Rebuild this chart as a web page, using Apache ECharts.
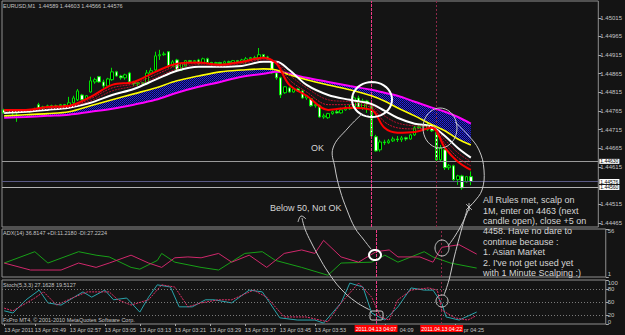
<!DOCTYPE html>
<html><head><meta charset="utf-8">
<script src="https://cdn.jsdelivr.net/npm/echarts@6/dist/echarts.min.js"></script>
<style>html,body{margin:0;padding:0;background:#141414;}#c{width:625px;height:335px;}</style>
</head><body><div id="c"></div>
<script>
// ---------- categories (1-minute bars, 13 Apr 2011) ----------
const startMinute = 2 * 60 + 42;   // 02:42
const barCount = 138;              // visible slots incl. right shift
const times = [];
for (let i = 0; i < barCount; i++) {
  const m = startMinute + i;
  times.push(String(Math.floor(m / 60)).padStart(2, '0') + ':' + String(m % 60).padStart(2, '0'));
}
// ---------- candles [open, close, low, high] ----------
const ohlc = [
[1.44768,1.44760,1.44758,1.44771],[1.44760,1.44766,1.44760,1.44768],[1.44766,1.44760,1.44749,1.44768],[1.44760,1.44763,1.44736,1.44766],
[1.44763,1.44766,1.44760,1.44768],[1.44766,1.44763,1.44760,1.44768],[1.44763,1.44766,1.44760,1.44768],[1.44766,1.44768,1.44763,1.44774],
[1.44782,1.44771,1.44768,1.44787],[1.44771,1.44776,1.44768,1.44779],[1.44776,1.44779,1.44774,1.44782],[1.44779,1.44776,1.44774,1.44782],
[1.44776,1.44779,1.44774,1.44782],[1.44779,1.44782,1.44776,1.44784],[1.44782,1.44779,1.44776,1.44784],[1.44779,1.44787,1.44776,1.44803],
[1.44787,1.44800,1.44784,1.44806],[1.44795,1.44819,1.44792,1.44824],[1.44808,1.44795,1.44792,1.44811],[1.44798,1.44806,1.44795,1.44808],
[1.44816,1.44846,1.44814,1.44857],[1.44843,1.44849,1.44838,1.44854],[1.44857,1.44843,1.44841,1.44859],[1.44843,1.44832,1.44827,1.44849],
[1.44832,1.44851,1.44830,1.44854],[1.44849,1.44870,1.44846,1.44881],[1.44870,1.44859,1.44857,1.44873],[1.44859,1.44854,1.44849,1.44862],
[1.44854,1.44862,1.44849,1.44865],[1.44867,1.44843,1.44841,1.44870],[1.44843,1.44838,1.44832,1.44846],[1.44838,1.44841,1.44832,1.44843],
[1.44841,1.44838,1.44832,1.44843],[1.44838,1.44867,1.44835,1.44875],[1.44867,1.44873,1.44862,1.44881],[1.44875,1.44913,1.44873,1.44924],
[1.44913,1.44916,1.44902,1.44929],[1.44916,1.44918,1.44913,1.44924],[1.44924,1.44886,1.44881,1.44926],[1.44886,1.44897,1.44884,1.44902],
[1.44902,1.44875,1.44870,1.44905],[1.44875,1.44892,1.44873,1.44895],[1.44886,1.44900,1.44884,1.44902],[1.44900,1.44897,1.44895,1.44902],
[1.44897,1.44900,1.44895,1.44902],[1.44902,1.44892,1.44889,1.44905],[1.44895,1.44905,1.44892,1.44908],[1.44905,1.44895,1.44892,1.44908],
[1.44895,1.44892,1.44886,1.44897],[1.44892,1.44895,1.44889,1.44897],[1.44895,1.44892,1.44889,1.44897],[1.44892,1.44897,1.44889,1.44900],
[1.44897,1.44895,1.44892,1.44900],[1.44895,1.44900,1.44892,1.44902],[1.44900,1.44897,1.44895,1.44902],[1.44897,1.44902,1.44892,1.44905],
[1.44900,1.44905,1.44892,1.44910],[1.44905,1.44908,1.44902,1.44910],[1.44908,1.44905,1.44902,1.44913],[1.44905,1.44916,1.44902,1.44934],
[1.44916,1.44910,1.44908,1.44918],[1.44910,1.44905,1.44902,1.44913],[1.44900,1.44867,1.44865,1.44902],[1.44867,1.44854,1.44849,1.44870],
[1.44854,1.44808,1.44800,1.44857],[1.44814,1.44830,1.44811,1.44832],[1.44827,1.44816,1.44814,1.44830],[1.44816,1.44824,1.44814,1.44827],
[1.44824,1.44819,1.44816,1.44827],[1.44819,1.44800,1.44798,1.44822],[1.44800,1.44806,1.44795,1.44808],[1.44798,1.44779,1.44776,1.44800],
[1.44779,1.44782,1.44774,1.44784],[1.44779,1.44749,1.44747,1.44782],[1.44749,1.44752,1.44744,1.44758],[1.44747,1.44758,1.44744,1.44760],
[1.44758,1.44763,1.44755,1.44766],[1.44763,1.44760,1.44758,1.44768],[1.44760,1.44768,1.44758,1.44774],[1.44768,1.44774,1.44766,1.44779],
[1.44774,1.44771,1.44768,1.44782],[1.44776,1.44800,1.44774,1.44806],[1.44800,1.44776,1.44771,1.44806],[1.44774,1.44792,1.44768,1.44798],
[1.44792,1.44784,1.44760,1.44795],[1.44784,1.44698,1.44693,1.44787],[1.44696,1.44658,1.44656,1.44701],[1.44661,1.44682,1.44656,1.44688],
[1.44682,1.44680,1.44674,1.44688],[1.44680,1.44685,1.44677,1.44690],[1.44685,1.44690,1.44682,1.44696],[1.44690,1.44688,1.44682,1.44698],
[1.44688,1.44693,1.44682,1.44698],[1.44693,1.44690,1.44685,1.44696],[1.44690,1.44701,1.44688,1.44704],[1.44701,1.44720,1.44698,1.44725],
[1.44720,1.44723,1.44717,1.44728],[1.44723,1.44725,1.44720,1.44731],[1.44715,1.44728,1.44712,1.44733],[1.44731,1.44712,1.44709,1.44733],
[1.44707,1.44634,1.44629,1.44712],[1.44634,1.44666,1.44631,1.44674],[1.44661,1.44613,1.44607,1.44666],[1.44613,1.44618,1.44607,1.44623],
[1.44618,1.44581,1.44578,1.44621],[1.44581,1.44591,1.44567,1.44594],[1.44591,1.44559,1.44554,1.44594],[1.44575,1.44589,1.44573,1.44591],
[1.44589,1.44576,1.44566,1.44603]
];
// ---------- moving averages (read at these bar indices) ----------
const maIdx     = [0,5,10,15,20,25,30,35,40,45,50,55,60,63,66,70,75,80,85,88,91,95,99,102,105,108];
const maRed     = [1.44768,1.44768,1.44776,1.44779,1.44803,1.44835,1.44843,1.44870,1.44892,1.44895,1.44889,1.44897,1.44908,1.44892,1.44835,1.44806,1.44768,1.44774,1.44768,1.44720,1.44707,1.44709,1.44720,1.44666,1.44629,1.44607];
const maRib2    = [1.44766,1.44766,1.44774,1.44776,1.44798,1.44827,1.44838,1.44862,1.44886,1.44892,1.44889,1.44895,1.44905,1.44895,1.44849,1.44816,1.44782,1.44782,1.44774,1.44736,1.44720,1.44717,1.44720,1.44677,1.44640,1.44618];
const maRib3    = [1.44763,1.44766,1.44771,1.44776,1.44792,1.44819,1.44832,1.44854,1.44878,1.44889,1.44886,1.44892,1.44902,1.44897,1.44862,1.44827,1.44795,1.44790,1.44779,1.44752,1.44733,1.44725,1.44723,1.44688,1.44653,1.44629];
const maWhite   = [1.44760,1.44763,1.44768,1.44774,1.44787,1.44808,1.44824,1.44849,1.44873,1.44884,1.44884,1.44886,1.44897,1.44897,1.44875,1.44835,1.44808,1.44795,1.44784,1.44766,1.44747,1.44731,1.44723,1.44698,1.44666,1.44640];
const maYellow  = [1.44752,1.44755,1.44758,1.44763,1.44779,1.44795,1.44811,1.44827,1.44846,1.44859,1.44870,1.44875,1.44878,1.44875,1.44862,1.44849,1.44835,1.44822,1.44806,1.44792,1.44774,1.44752,1.44728,1.44712,1.44690,1.44674];
const maMagenta = [1.44747,1.44749,1.44752,1.44755,1.44763,1.44771,1.44782,1.44795,1.44814,1.44830,1.44843,1.44857,1.44865,1.44870,1.44865,1.44854,1.44843,1.44832,1.44822,1.44814,1.44806,1.44790,1.44774,1.44763,1.44749,1.44731];
// ---------- horizontal price lines ----------
const levelEntry = 1.44630, levelBid = 1.44576, levelLow = 1.44560;
const priceTicks = [1.44465,1.44515,1.44615,1.44665,1.44715,1.44765,1.44815,1.44865,1.44915,1.44965,1.45015];
// ---------- ADX(14) [bar, value] ----------
const plusDI  = [[0,17],[7,30],[10,17],[17,30],[21,26],[24,24],[29,12],[31,10],[35,20],[36,28],[39,18],[45,12],[49,9],[55,28],[59,30],[62,20],[68,12],[74,3],[77,17],[84,18],[87,26],[90,18],[96,30],[98,24],[102,17],[108,11.22]];
const minusDI = [[0,17],[6,9],[13,9],[17,17],[21,12],[24,17],[29,26],[33,17],[36,12],[39,23],[42,24],[45,23],[49,28],[52,18],[56,26],[60,12],[64,28],[68,32],[71,28],[73,43],[77,24],[81,18],[85,30],[88,32],[90,24],[95,24],[98,18],[100,35],[104,38],[108,27.22]];
const adxTicks = [1, 56];
// ---------- Stochastic(5,3,3) [bar, value] ----------
const stochMain = [[0,30],[2,25],[5,55],[8,77],[10,48],[13,43],[16,61],[18,73],[20,61],[23,77],[25,55],[28,59],[31,27],[33,61],[35,89],[38,84],[40,39],[43,39],[46,55],[48,55],[52,48],[56,77],[59,73],[63,14],[67,9],[71,9],[73,2],[77,48],[79,93],[82,84],[84,25],[87,9],[90,39],[93,82],[96,77],[98,77],[100,48],[101,16],[104,9],[108,27.16]];
const stochSig  = [[0,36],[2,30],[7,59],[9,73],[12,43],[16,61],[19,73],[24,73],[26,55],[29,43],[33,55],[36,89],[39,84],[42,39],[45,48],[49,55],[52,55],[57,77],[60,61],[64,16],[69,16],[74,5],[77,48],[81,93],[84,61],[86,16],[88,9],[90,55],[93,77],[97,82],[99,77],[100,32],[103,14],[106,9],[108,19.51]];
const stochTicks = [0, 20, 50, 80, 100];
const stochLevels = [20, 50, 80];
const cross1 = '04:07', cross2 = '04:22';
const lastLabelBar = 103;

// ================= chart =================
const FONT = 'Liberation Sans';
const TXT = '#c4c4c4';
const chart = echarts.init(document.getElementById('c'), null, {renderer: 'svg'});
const pairs = (xs, vs) => xs.map((x, k) => [x, vs[k]]);
const crossIdx1 = times.indexOf(cross1), crossIdx2 = times.indexOf(cross2);
// labels every 8 bars; those fully hidden under the crosshair date boxes are skipped
const showLabel = i => i === 0 || (i >= 7 && i <= lastLabelBar && (i - 7) % 8 === 0 &&
  !(i > crossIdx1 - 8 && i < crossIdx1) && !(i > crossIdx2 - 8 && i < crossIdx2));

// dotted blue fill of the MA cloud
const dotTile = 'data:image/svg+xml;utf8,' + encodeURIComponent(
  '<svg xmlns="http://www.w3.org/2000/svg" width="2" height="2"><rect width="2" height="2" fill="#0c0c34"/>' +
  '<rect x="0" y="0" width="1" height="1" fill="#2626e6"/><rect x="1" y="1" width="1" height="1" fill="#1e1ec4"/></svg>');

function crossLines(withLabel) {
  const lab = txt => ({show: withLabel, position: 'start', formatter: txt, color: '#ffffff', backgroundColor: '#ff0000',
    fontSize: 5.3, fontFamily: FONT, padding: [1, 1], distance: 1});
  return {silent: true, symbol: ['none', 'none'], animation: false, precision: 5,
    data: [
      {xAxis: cross1, lineStyle: {color: '#ee3a86', width: 1, type: [3, 1]}, label: lab('2011.04.13 ' + cross1)},
      {xAxis: cross2, lineStyle: {color: '#8c2848', width: 1, type: [2, 2]}, label: lab('2011.04.13 ' + cross2)}
    ]};
}
function priceLine(v, color) {
  return {yAxis: v, lineStyle: {color: color, width: 1, type: 'solid'},
    label: {show: true, position: 'end', formatter: v.toFixed(5), color: '#000', backgroundColor: '#ffffff',
      fontSize: 5, fontFamily: FONT, padding: [0, 1], distance: 1}};
}
function maLine(name, vals, color, width, type, z, extra) {
  return Object.assign({name, type: 'line', xAxisIndex: 0, yAxisIndex: 0, data: pairs(maIdx, vals), showSymbol: false,
    smooth: 0.35, lineStyle: {color, width, type: type || 'solid'}, z: z, silent: true}, extra || {});
}
function ell(cx, cy, rx, ry, stroke, w) {
  const pts = [];
  for (let k = 0; k < 40; k++) { const a = k / 40 * Math.PI * 2; pts.push([cx + rx * Math.cos(a), cy + ry * Math.sin(a)]); }
  return {type: 'polygon', shape: {points: pts}, style: {fill: 'none', stroke, lineWidth: w}, z: 100, silent: true};
}
function curve(pts, w, c) {
  return {type: 'polyline', shape: {points: pts, smooth: 0.4}, style: {fill: 'none', stroke: c || '#c8c8c8', lineWidth: w || 1}, z: 100, silent: true};
}
function note(x, y, text) {
  return {type: 'text', x, y, z: 101, silent: true,
    style: {text, fill: '#d4d4d4', font: '9px "Liberation Sans"', lineHeight: 10.4, align: 'left', verticalAlign: 'top'}};
}

const gridL = 2, gridW = 603.75;
const TF = 5.5;
const xAxisCommon = g => ({type: 'category', gridIndex: g, data: times, boundaryGap: true,
  axisLine: {show: false}, splitLine: {show: false},
  axisTick: {show: g === 2, interval: (i) => showLabel(i), length: 2, alignWithLabel: true, lineStyle: {color: '#aaaaaa'}},
  axisLabel: {show: g === 2, interval: (i) => showLabel(i), showMinLabel: true, showMaxLabel: true, hideOverlap: false,
    align: 'left', margin: 3, fontSize: TF, fontFamily: FONT, color: TXT,
    rich: {p: {fontSize: TF, fontFamily: FONT, color: TXT, padding: [0, 0, 0, 15]},
           q: {fontSize: TF, fontFamily: FONT, color: TXT, padding: [0, 0, 0, 9]}},
    formatter: (v, i) => {
      if (i === 0) return '13 Apr 2011';
      if (i > crossIdx1 && i < crossIdx1 + 8) return '{p|' + v + '}';     // partly covered by date box
      if (i > crossIdx2 && i < crossIdx2 + 8) return '{q|pr ' + v + '}';
      return '13 Apr ' + v;
    }}});
const padRich = {
  up: {fontSize: 6, fontFamily: FONT, color: TXT, padding: [0, 0, 6, 0]},
  dn: {fontSize: 6, fontFamily: FONT, color: TXT, padding: [4, 0, 0, 0]},
  dn2: {fontSize: 6, fontFamily: FONT, color: TXT, padding: [6, 0, 0, 0]},
  up2: {fontSize: 6, fontFamily: FONT, color: TXT, padding: [0, 0, 5, 0]}
};
const yAxisCommon = (g, min, max, ticks, fmt) => ({type: 'value', gridIndex: g, position: 'right', min, max, scale: true,
  axisLine: {show: false}, splitLine: {show: false},
  axisTick: {show: true, length: 3, customValues: ticks, lineStyle: {color: '#aaaaaa'}},
  axisLabel: {show: true, customValues: ticks, margin: 2, fontSize: 6, fontFamily: FONT, color: TXT, formatter: fmt, rich: padRich}});

const option = {
  backgroundColor: '#141414',
  animation: false,
  title: [
    {text: 'EURUSD,M1  1.44589 1.44603 1.44566 1.44576', left: 3, top: 3, padding: 0, textStyle: {color: TXT, fontSize: 5.5, fontWeight: 'normal', fontFamily: FONT}},
    {text: 'ADX(14) 36.8147 +DI:11.2180 -DI:27.2224', left: 3, top: 230, padding: 0, textStyle: {color: TXT, fontSize: 5.5, fontWeight: 'normal', fontFamily: FONT}},
    {text: 'Stoch(5,3,3) 27.1628 19.5127', left: 3, top: 282, padding: 0, textStyle: {color: TXT, fontSize: 5.5, fontWeight: 'normal', fontFamily: FONT}},
    {text: 'FxPro MT4, \u00a9 2001-2010 MetaQuotes Software Corp.', left: 3, top: 317, padding: 0, textStyle: {color: TXT, fontSize: 5.5, fontWeight: 'normal', fontFamily: FONT}}
  ],
  grid: [
    {left: gridL, top: 1, width: gridW, height: 226, show: true, borderColor: '#8e8e8e', borderWidth: 1},
    {left: gridL, top: 229, width: gridW, height: 48, show: true, borderColor: '#8e8e8e', borderWidth: 1},
    {left: gridL, top: 280, width: gridW, height: 44, show: true, borderColor: '#8e8e8e', borderWidth: 1}
  ],
  xAxis: [xAxisCommon(0), xAxisCommon(1), xAxisCommon(2)],
  yAxis: [
    yAxisCommon(0, 1.44454, 1.45060, priceTicks, v => v.toFixed(5)),
    yAxisCommon(1, 1, 56, adxTicks, v => v === 1 ? '{up|1}' : '{dn|' + v + '}'),
    yAxisCommon(2, 0, 100, stochTicks, v => v === 100 ? '{dn2|100}' : (v === 0 ? '{up2|0}' : String(v)))
  ],
  series: [
    {name: 'EURUSD', type: 'candlestick', xAxisIndex: 0, yAxisIndex: 0, data: ohlc, barWidth: 3, z: 2, silent: true,
      itemStyle: {color: '#000000', color0: '#ffffff', borderColor: '#00e000', borderColor0: '#00e000', borderWidth: 1}},
    {name: 'band', type: 'custom', xAxisIndex: 0, yAxisIndex: 0, z: 3, silent: true, clip: true,
      data: [[maIdx[0], maYellow[0]]],
      renderItem: function (params, api) {
        const pts = [];
        for (let k = 0; k < maIdx.length; k++) pts.push(api.coord([maIdx[k], maYellow[k]]));
        for (let k = maIdx.length - 1; k >= 0; k--) pts.push(api.coord([maIdx[k], maMagenta[k]]));
        return {type: 'polygon', shape: {points: pts},
          style: {fill: {image: dotTile, repeat: 'repeat', imageWidth: 2, imageHeight: 2}}};
      }},
    maLine('magenta', maMagenta, '#ff00ff', 2, 'solid', 5),
    maLine('yellow', maYellow, '#ffff00', 1.6, 'solid', 5),
    maLine('white', maWhite, '#ffffff', 2, 'solid', 6, {
      markLine: {silent: true, symbol: ['none', 'none'], animation: false, precision: 5,
        data: [priceLine(levelEntry, '#9a9a9a'), priceLine(levelBid, '#5a5a86'), priceLine(levelLow, '#b4b4b4')]
          .concat(crossLines(false).data)}}),
    maLine('rib3', maRib3, '#b0102a', 1, [2, 1], 6),
    maLine('rib2', maRib2, '#d01030', 1, [2, 1], 6),
    maLine('red', maRed, '#ff0000', 2, 'solid', 7),
    {name: '+DI', type: 'line', xAxisIndex: 1, yAxisIndex: 1, data: plusDI, showSymbol: false, silent: true,
      lineStyle: {color: '#18a018', width: 1}, markLine: crossLines(false)},
    {name: '-DI', type: 'line', xAxisIndex: 1, yAxisIndex: 1, data: minusDI, showSymbol: false, silent: true,
      lineStyle: {color: '#d0286c', width: 1}},
    {name: 'Stoch', type: 'line', xAxisIndex: 2, yAxisIndex: 2, data: stochMain, showSymbol: false, silent: true,
      lineStyle: {color: '#2aa4ac', width: 1}, markLine: crossLines(true)},
    {name: 'Signal', type: 'line', xAxisIndex: 2, yAxisIndex: 2, data: stochSig, showSymbol: false, silent: true,
      lineStyle: {color: '#e03068', width: 1, type: [2, 1]},
      markLine: {silent: true, symbol: ['none', 'none'], animation: false, label: {show: false}, precision: 2,
        lineStyle: {color: '#7a7a7a', type: [1, 2], width: 1}, data: stochLevels.map(v => ({yAxis: v}))}}
  ],
  graphic: [
    ell(372, 99.5, 20, 17.5, '#ffffff', 2),
    ell(440, 128, 17, 20, '#c8c8c8', 1),
    ell(375, 255, 6, 5, '#ffffff', 2),
    ell(442, 248, 7, 8, '#c8c8c8', 1),
    ell(442, 301, 6, 6, '#c8c8c8', 1),
    {type: 'rect', shape: {x: 370, y: 311, width: 13, height: 9, r: 2}, style: {fill: 'none', stroke: '#c8c8c8', lineWidth: 1}, z: 100, silent: true},
    curve([[362,114],[348,128],[333,148],[335,168],[340,190],[347,210],[355,228],[364,240],[371,249]]),
    curve([[302,218],[305,229],[311,242],[319,257],[328,272],[341,289],[356,302],[370,310]]),
    curve([[298,222],[301,216],[306,219]]),
    curve([[455,122],[468,135],[479,150],[484,170],[482,190],[474,202],[469,207]]),
    curve([[469,208],[463,222],[455,236],[448,246]]),
    curve([[467,210],[460,235],[454,258],[449,280],[444,295]]),
    curve([[466,204],[472,210]]), curve([[466,210],[472,204]]), curve([[469,203],[469,211]]),
    note(311, 143, 'OK'),
    note(270, 203, 'Below 50, Not OK'),
    note(483, 195, "All Rules met, scalp on\n1M, enter on 4463 (next\ncandle open), close +5 on\n4458. Have no dare to\ncontinue because :\n1. Asian Market\n2. I've not get used yet\nwith 1 Minute Scalping :)")
  ]
};
chart.setOption(option);
</script></body></html>
